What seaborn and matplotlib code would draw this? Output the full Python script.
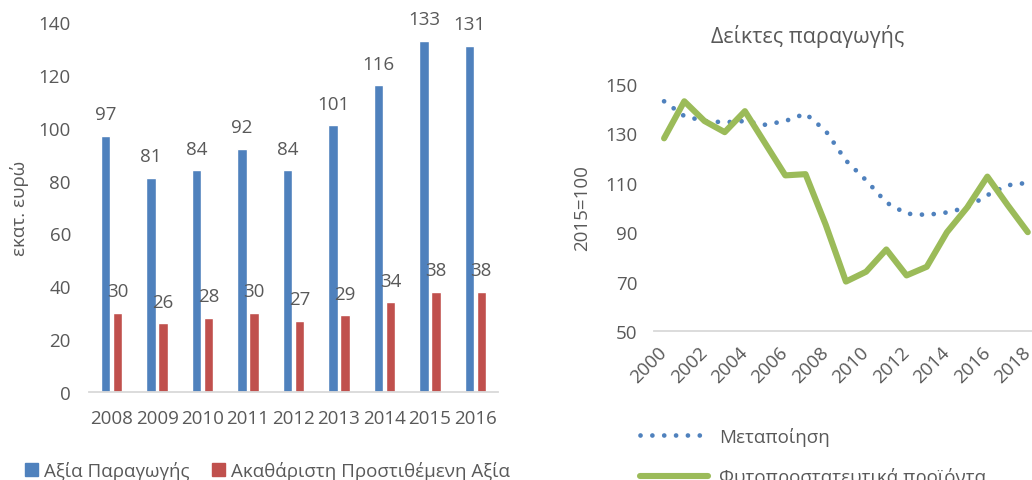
import numpy as np
import pandas as pd
import matplotlib
matplotlib.use('Agg')
import matplotlib.pyplot as plt
from matplotlib.patches import Patch
import seaborn as sns

# ─── Δεδομένα ───────────────────────────────────────────────────────────────
bar_years  = ['2008', '2009', '2010', '2011', '2012', '2013', '2014', '2015', '2016']
production = [97, 81, 84, 92, 84, 101, 116, 133, 131]
gva        = [30, 26, 28, 30, 27, 29, 34, 38, 38]
bar_series = ['Αξία Παραγωγής', 'Ακαθάριστη Προστιθέμενη Αξία']

line_years = list(range(2000, 2019))
manuf = [143, 137, 135, 134.5, 135, 133.5, 135, 138, 131, 119, 111,
         102, 97.5, 97, 98, 100, 105, 109, 110]
plant = [128, 143, 135, 130.5, 139, 126, 113, 113.5, 93, 70, 74,
         83, 72.5, 76, 90, 100, 112.5, 101, 90]
line_series = ['Μεταποίηση', 'Φυτοπροστατευτικά προϊόντα']
line_ticks  = list(range(2000, 2019, 2))

# ─── Στυλ ───────────────────────────────────────────────────────────────────
BLUE  = '#4F81BD'
RED   = '#C0504D'
GREEN = '#9BBB59'
TXT   = '#595959'
GRID  = '#D9D9D9'
FS    = 13.5

sns.set_style('white')
plt.rcParams['font.family'] = ['Open Sans', 'DejaVu Sans']
plt.rcParams['text.color'] = TXT
plt.rcParams['axes.labelcolor'] = TXT
plt.rcParams['xtick.color'] = TXT
plt.rcParams['ytick.color'] = TXT

fig = plt.figure(figsize=(10.32, 4.81), dpi=100)

# ─── Αριστερά: ραβδόγραμμα ─────────────────────────────────────────────────
df = pd.DataFrame({
    'year': bar_years * 2,
    'value': production + gva,
    'series': [bar_series[0]] * len(bar_years) + [bar_series[1]] * len(bar_years),
})

ax1 = fig.add_axes([0.0862, 0.183, 0.3964, 0.769])
sns.barplot(data=df, x='year', y='value', hue='series', ax=ax1,
            palette=[BLUE, RED], width=0.53, gap=0.22, saturation=1,
            legend=False)
for cont in ax1.containers:
    ax1.bar_label(cont, fmt='%d', padding=9, fontsize=FS, color=TXT)

ax1.set_ylim(0, 140)
ax1.set_xlim(-0.5, 8.5)
ax1.set_yticks(range(0, 141, 20))
ax1.tick_params(axis='both', length=0, labelsize=FS)
ax1.tick_params(axis='x', pad=12)
ax1.tick_params(axis='y', pad=13)
ax1.set_xlabel('')
ax1.set_ylabel('εκατ. ευρώ', fontsize=FS, labelpad=7)
for s in ['left', 'right', 'top']:
    ax1.spines[s].set_visible(False)
ax1.spines['bottom'].set_color(GRID)
ax1.spines['bottom'].set_linewidth(1.3)

handles = [Patch(color=BLUE), Patch(color=RED)]
fig.legend(handles, bar_series, loc='center left',
           bbox_to_anchor=(0.008, 0.02), ncol=2, frameon=False,
           fontsize=FS, handlelength=0.7, handleheight=0.7,
           handletextpad=0.3, columnspacing=1.2)

# ─── Δεξιά: γραμμές ─────────────────────────────────────────────────────────
ax2 = fig.add_axes([0.6337, 0.3098, 0.372, 0.5135])
sns.lineplot(x=line_years, y=manuf, ax=ax2, color=BLUE, linewidth=3.4,
             linestyle=(0, (0.01, 2.5)), dash_capstyle='round',
             label=line_series[0], legend=False)
sns.lineplot(x=line_years, y=plant, ax=ax2, color=GREEN, linewidth=4.4,
             solid_capstyle='round', solid_joinstyle='round',
             label=line_series[1], legend=False)

ax2.set_xlim(1999.5, 2018.5)
ax2.set_ylim(50, 150)
ax2.set_yticks(range(50, 151, 20))
ax2.set_xticks(line_ticks)
ax2.set_xticklabels([str(y) for y in line_ticks], rotation=45,
                    ha='right', va='center', rotation_mode='anchor')
ax2.tick_params(axis='both', length=0, labelsize=FS)
ax2.tick_params(axis='x', pad=13)
ax2.tick_params(axis='y', pad=12)
ax2.set_ylabel('2015=100', fontsize=FS, labelpad=10)
ax2.set_title('Δείκτες παραγωγής', fontsize=15.5, pad=30, x=0.40)
for s in ['left', 'right', 'top']:
    ax2.spines[s].set_visible(False)
ax2.spines['bottom'].set_color(GRID)
ax2.spines['bottom'].set_linewidth(1.3)

h, l = ax2.get_legend_handles_labels()
fig.legend(h, l, loc='upper left', bbox_to_anchor=(0.604, 0.146),
           frameon=False, fontsize=FS, handlelength=3.6,
           handletextpad=0.6, labelspacing=1.15)

fig.savefig('out.png', dpi=100)
